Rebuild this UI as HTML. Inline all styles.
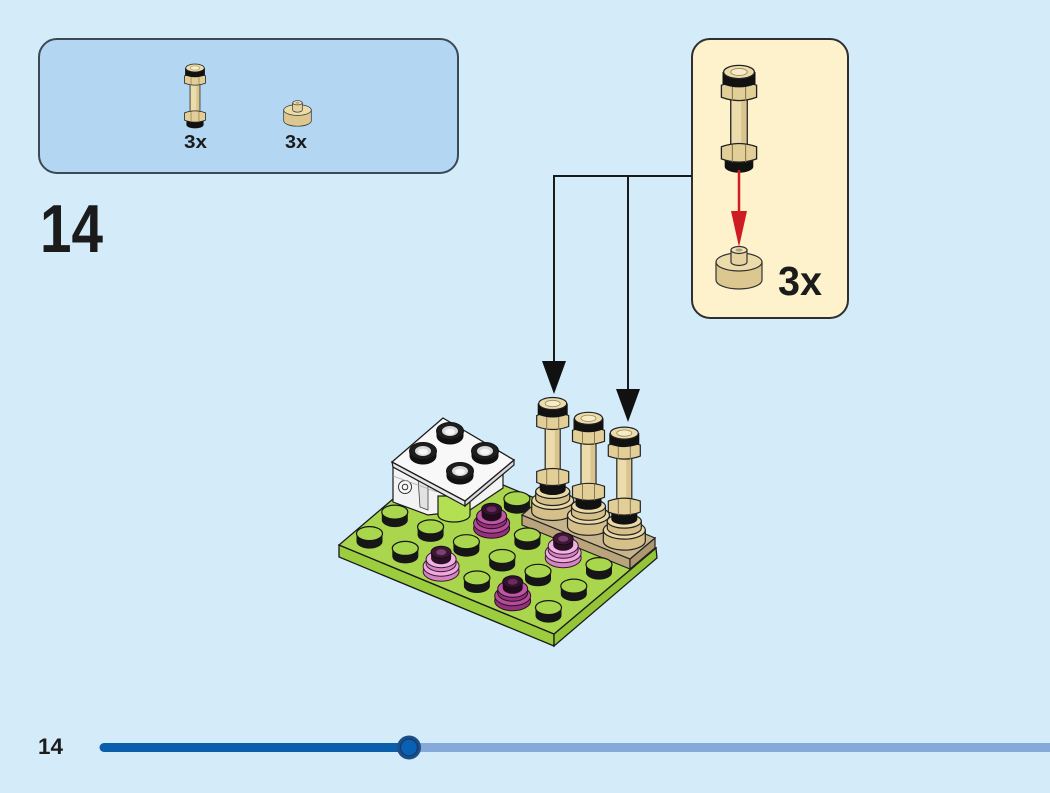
<!DOCTYPE html>
<html><head><meta charset="utf-8"><style>
html,body{margin:0;padding:0;background:#d4ebfa;}
svg{display:block;}
text{font-family:"Liberation Sans",Arial,sans-serif;font-weight:bold;fill:#1b1b1b;}
</style></head><body>
<svg width="1050" height="793" viewBox="0 0 1050 793" xmlns="http://www.w3.org/2000/svg">
<defs>
  <g id="stud">
    <path d="M-13,-8 L-13,0 A13,7 0 0 0 13,0 L13,-8 Z" fill="#161616"/>
    <ellipse cx="0" cy="-8" rx="13" ry="7" fill="#a8d64c" stroke="#161616" stroke-width="1.2"/>
  </g>
  <g id="flowerP">
    <ellipse cx="0" cy="0" rx="18" ry="10" fill="#d584c2" stroke="#3a1a33" stroke-width="1"/>
    <ellipse cx="0" cy="-5" rx="18" ry="10" fill="#eea8dd" stroke="#3a1a33" stroke-width="1"/>
    <ellipse cx="0" cy="-8" rx="15" ry="8.5" fill="#d584c2" stroke="#3a1a33" stroke-width="1"/>
    <ellipse cx="0" cy="-12" rx="15" ry="8.5" fill="#f0b2e2" stroke="#3a1a33" stroke-width="1"/>
    <path d="M-10,-19 L-10,-13 A10,6 0 0 0 10,-13 L10,-19 Z" fill="#2a0f25"/>
    <ellipse cx="0" cy="-19" rx="10" ry="6" fill="#3c1836" stroke="#1a0a16"/>
    <ellipse cx="0" cy="-19" rx="5" ry="3" fill="#7a4270"/>
  </g>
  <g id="flowerM">
    <ellipse cx="0" cy="0" rx="18" ry="10" fill="#93327a" stroke="#2a0f25" stroke-width="1"/>
    <ellipse cx="0" cy="-5" rx="18" ry="10" fill="#b44c9a" stroke="#2a0f25" stroke-width="1"/>
    <ellipse cx="0" cy="-8" rx="15" ry="8.5" fill="#93327a" stroke="#2a0f25" stroke-width="1"/>
    <ellipse cx="0" cy="-12" rx="15" ry="8.5" fill="#bd56a3" stroke="#2a0f25" stroke-width="1"/>
    <path d="M-10,-19 L-10,-13 A10,6 0 0 0 10,-13 L10,-19 Z" fill="#220a1e"/>
    <ellipse cx="0" cy="-19" rx="10" ry="6" fill="#33122d" stroke="#1a0a16"/>
    <ellipse cx="0" cy="-19" rx="5" ry="3" fill="#6a2a5e"/>
  </g>
  <g id="rod">
    <path d="M-13,78 L-13,86 A13,5.5 0 0 0 13,86 L13,78 Z" fill="#111"/>
    <rect x="-7.5" y="22" width="15" height="46" fill="#eddcab" stroke="#222" stroke-width="1.2"/>
    <rect x="2" y="23" width="4.5" height="44" fill="#d9c48e"/>
    <path d="M-16,68 L-16,79 Q0,85 16,79 L16,68 Q0,62 -16,68 Z" fill="#e2ce97" stroke="#222" stroke-width="1.2"/>
    <path d="M-6,66 V82 M6,66 V82" stroke="#8a7850" stroke-width="1"/>
    <path d="M-16,12 L-16,23 Q0,29 16,23 L16,12 Q0,6 -16,12 Z" fill="#e2ce97" stroke="#222" stroke-width="1.2"/>
    <path d="M-6,10 V26 M6,10 V26" stroke="#8a7850" stroke-width="1"/>
    <path d="M-15,0 L-15,11 Q0,17 15,11 L15,0 Z" fill="#111"/>
    <ellipse cx="0" cy="0" rx="14" ry="6" fill="#ecdcab" stroke="#222" stroke-width="1.2"/>
    <ellipse cx="0" cy="0" rx="7.5" ry="3.2" fill="#f6ecc9" stroke="#9a8758" stroke-width="0.8"/>
  </g>
  <g id="pillar">
    <path d="M-21,97 L-21,108 A21,9 0 0 0 21,108 L21,97 Z" fill="#d6c08a" stroke="#222" stroke-width="1.2"/>
    <ellipse cx="0" cy="97" rx="21" ry="9" fill="#ead9a6" stroke="#222" stroke-width="1.2"/>
    <path d="M-17,88 L-17,95 A17,7 0 0 0 17,95 L17,88 Z" fill="#d6c08a" stroke="#222" stroke-width="1.2"/>
    <ellipse cx="0" cy="88" rx="17" ry="7" fill="#ead9a6" stroke="#222" stroke-width="1.2"/>
    <use href="#rod"/>
  </g>
  <g id="rp">
    <path d="M-23,0 L-23,18 A23,9 0 0 0 23,18 L23,0 Z" fill="#dcc791" stroke="#333" stroke-width="1.2"/>
    <ellipse cx="0" cy="0" rx="23" ry="9" fill="#ecdcab" stroke="#333" stroke-width="1.2"/>
    <path d="M-8,-12 L-8,0 A8,3.5 0 0 0 8,0 L8,-12 Z" fill="#e6d39f" stroke="#333" stroke-width="1.2"/>
    <ellipse cx="0" cy="-12" rx="8" ry="3.5" fill="#f1e3b8" stroke="#333" stroke-width="1.2"/>
    <ellipse cx="0" cy="-12" rx="3.5" ry="1.6" fill="#b8a274"/>
  </g>
  <g id="wstud">
    <path d="M-13.5,0 L-13.5,5 A13.5,8.5 0 0 0 13.5,5 L13.5,0 Z" fill="#111"/>
    <ellipse cx="0" cy="0" rx="13.5" ry="8.5" fill="#1e1e1e" stroke="#111"/>
    <ellipse cx="0" cy="0" rx="8" ry="5" fill="#d8d8d8"/>
    <ellipse cx="0" cy="0.8" rx="5" ry="3" fill="#f6f6f6"/>
  </g>
</defs>

<rect width="1050" height="793" fill="#d4ebfa"/>

<!-- parts panel -->
<rect x="39" y="39" width="419" height="134" rx="18" fill="#b3d7f2" stroke="#3c4954" stroke-width="2"/>
<use href="#rod" transform="translate(195,68) scale(0.66)"/>
<use href="#rp" transform="translate(297.5,110) scale(0.6)"/>
<text x="184" y="148" font-size="18" textLength="23" lengthAdjust="spacingAndGlyphs">3x</text>
<text x="285" y="148" font-size="18" textLength="22" lengthAdjust="spacingAndGlyphs">3x</text>

<!-- step number -->
<text x="40" y="252" font-size="68" textLength="63" lengthAdjust="spacingAndGlyphs">14</text>

<!-- sub-assembly panel -->
<rect x="692" y="39" width="156" height="279" rx="18" fill="#fdf2cb" stroke="#2f2f2f" stroke-width="2"/>
<use href="#rod" transform="translate(739,72) scale(1.1)"/>
<line x1="739" y1="170" x2="739" y2="214" stroke="#cf1b22" stroke-width="2.5"/>
<polygon points="731,211 747,211 739,247" fill="#cf1b22"/>
<use href="#rp" transform="translate(739,262)"/>
<text x="778" y="295" font-size="41" textLength="44" lengthAdjust="spacingAndGlyphs">3x</text>

<!-- connectors -->
<path d="M692,176 H554 V364 M628,176 V391" fill="none" stroke="#1a1a1a" stroke-width="2"/>
<polygon points="542,361 566,361 554,394" fill="#111"/>
<polygon points="616,389 640,389 628,422" fill="#111"/>

<!-- base plate -->
<polygon points="339,545 554,634 554,646 339,557" fill="#9ccd3e" stroke="#1a1a1a" stroke-width="1.3"/>
<polygon points="554,634 656,548 657,558 554,646" fill="#94c438" stroke="#1a1a1a" stroke-width="1.3"/>
<polygon points="339,545 554,634 656,548 440,459" fill="#a9d64c" stroke="#1a1a1a" stroke-width="1.3"/>

<!-- white brick assembly -->
<polygon points="393,467 393,502 428,515 470,510 503,488 503,468 465,506" fill="#f3f3f3" stroke="#1a1a1a" stroke-width="1.2"/>
<circle cx="405" cy="487" r="6.5" fill="#fafafa" stroke="#333" stroke-width="1"/>
<circle cx="405" cy="487" r="2.8" fill="none" stroke="#333" stroke-width="1"/>
<polygon points="418,478 428,482 428,510 420,507" fill="#e2e2e2" stroke="#444" stroke-width="0.8"/>
<line x1="393" y1="476" x2="437" y2="492" stroke="#aaa" stroke-width="0.8"/>
<path d="M438,496 L438,515 A16,7 0 0 0 470,515 L470,496 Z" fill="#b2e052" stroke="#1a1a1a" stroke-width="1.2"/>
<polygon points="392,462 465,501 465,506 393,467" fill="#e6e6e6" stroke="#1a1a1a" stroke-width="1.2"/>
<polygon points="465,501 514,460 514,465 465,506" fill="#d9d9d9" stroke="#1a1a1a" stroke-width="1.2"/>
<polygon points="443,418 514,460 465,501 392,462" fill="#f8f8f8" stroke="#1a1a1a" stroke-width="1.3"/>
<use href="#wstud" x="450" y="431"/>
<use href="#wstud" x="423" y="451"/>
<use href="#wstud" x="485" y="451"/>
<use href="#wstud" x="460" y="471"/>

<!-- back studs -->
<use href="#stud" x="516.9" y="506.7"/>

<!-- tan slab -->
<polygon points="522,515 630,559 630,569 522,525" fill="#b9a47c" stroke="#222" stroke-width="1.2"/>
<polygon points="630,559 655,538 655,548 630,569" fill="#ad9871" stroke="#222" stroke-width="1.2"/>
<polygon points="522,515 547,493 655,538 630,559" fill="#c8b48c" stroke="#222" stroke-width="1.2"/>

<!-- depth ordered items -->
<use href="#stud" x="394.8" y="520.1"/>
<use href="#pillar" transform="translate(552.7,403.5)"/>
<use href="#flowerM" x="491.6" y="528.2"/>
<use href="#stud" x="430.6" y="534.9"/>
<use href="#pillar" transform="translate(588.5,418.3)"/>
<use href="#stud" x="369.5" y="541.6"/>
<use href="#stud" x="527.4" y="543"/>
<use href="#stud" x="466.4" y="549.7"/>
<use href="#pillar" transform="translate(624.3,433.1)"/>
<use href="#stud" x="405.3" y="556.4"/>
<use href="#flowerP" x="563.2" y="557.8"/>
<use href="#stud" x="502.2" y="564.5"/>
<use href="#flowerP" x="441.1" y="571.2"/>
<use href="#stud" x="599" y="572.6"/>
<use href="#stud" x="538" y="579.3"/>
<use href="#stud" x="476.9" y="586"/>
<use href="#stud" x="573.8" y="594.1"/>
<use href="#flowerM" x="512.7" y="600.8"/>
<use href="#stud" x="548.5" y="615.6"/>

<!-- footer -->
<text x="38" y="754" font-size="22" textLength="25" lengthAdjust="spacingAndGlyphs">14</text>
<line x1="409" y1="747.5" x2="1060" y2="747.5" stroke="#85a9d8" stroke-width="9"/>
<line x1="104" y1="747.5" x2="409" y2="747.5" stroke="#0b5eac" stroke-width="9" stroke-linecap="round"/>
<circle cx="409" cy="747.5" r="12" fill="#1c4f8a"/>
<circle cx="409" cy="747.5" r="8.5" fill="#0a60b3" stroke="#143f70" stroke-width="1.5"/>
</svg>
</body></html>
